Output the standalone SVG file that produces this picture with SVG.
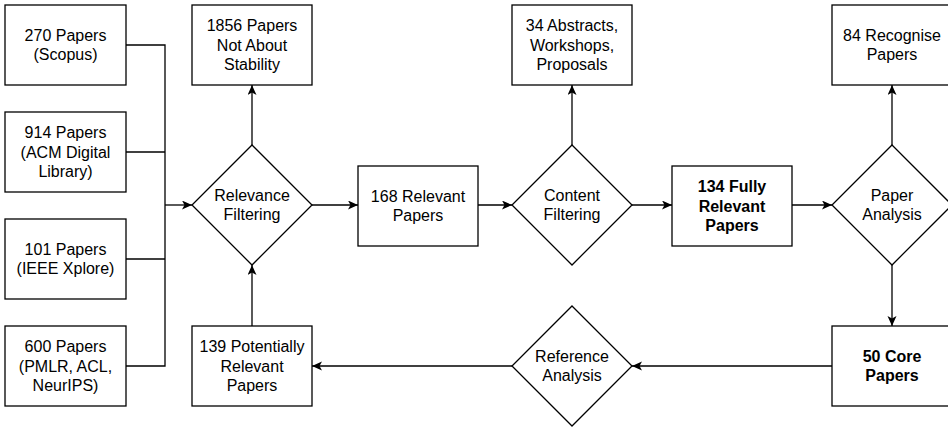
<svg xmlns="http://www.w3.org/2000/svg" width="948" height="427" viewBox="0 0 948 427">
<defs>
<marker id="arr" markerUnits="userSpaceOnUse" markerWidth="12" markerHeight="10" refX="10" refY="4.5" orient="auto">
<path d="M0,0 L10,4.5 L0,9 L2.5,4.5 Z" fill="#000"/>
</marker>
<style>
.box{fill:#fff;stroke:#000;stroke-width:1.3}
.t{font-family:"Liberation Sans",Arial,Helvetica,sans-serif;font-size:16px;fill:#000;text-anchor:middle}
.b{font-weight:bold}
.e{fill:none;stroke:#000;stroke-width:1.3}
.a{marker-end:url(#arr)}
</style>
</defs>
<rect width="948" height="427" fill="#fff"/>
<g id="connectors">
<polyline class="e" points="126,45 165,45 165,366 126,366"/>
<line class="e" x1="126" y1="152" x2="165" y2="152"/>
<line class="e" x1="126" y1="259" x2="165" y2="259"/>
<line class="e a" x1="165" y1="205" x2="192" y2="205"/>
<line class="e a" x1="252" y1="145" x2="252" y2="85"/>
<line class="e a" x1="252" y1="326" x2="252" y2="265"/>
<line class="e a" x1="312" y1="205" x2="358" y2="205"/>
<line class="e a" x1="478" y1="205" x2="512" y2="205"/>
<line class="e a" x1="572" y1="145" x2="572" y2="85"/>
<line class="e a" x1="632" y1="205" x2="672" y2="205"/>
<line class="e a" x1="792" y1="205" x2="832" y2="205"/>
<line class="e a" x1="892" y1="145" x2="892" y2="85"/>
<line class="e a" x1="892" y1="265" x2="892" y2="326"/>
<line class="e a" x1="832" y1="366" x2="632" y2="366"/>
<line class="e a" x1="512" y1="366" x2="312" y2="366"/>
</g>
<g id="scopus"><rect class="box" x="5" y="5" width="121" height="80"/><text class="t" x="65.5" y="41">270 Papers</text><text class="t" x="65.5" y="60.2">(Scopus)</text></g>
<g id="acm"><rect class="box" x="5" y="112" width="121" height="80"/><text class="t" x="65.5" y="138.4">914 Papers</text><text class="t" x="65.5" y="157.6">(ACM Digital</text><text class="t" x="65.5" y="176.8">Library)</text></g>
<g id="ieee"><rect class="box" x="5" y="219" width="121" height="80"/><text class="t" x="65.5" y="255">101 Papers</text><text class="t" x="65.5" y="274.2">(IEEE Xplore)</text></g>
<g id="pmlr"><rect class="box" x="5" y="326" width="121" height="80"/><text class="t" x="65.5" y="352.4">600 Papers</text><text class="t" x="65.5" y="371.6">(PMLR, ACL,</text><text class="t" x="65.5" y="390.8">NeurIPS)</text></g>
<g id="notabout"><rect class="box" x="192" y="5" width="120" height="80"/><text class="t" x="252" y="31.4">1856 Papers</text><text class="t" x="252" y="50.6">Not About</text><text class="t" x="252" y="69.8">Stability</text></g>
<g id="relevance"><polygon class="box" points="252,145 312,205 252,265 192,205"/><text class="t" x="252" y="201">Relevance</text><text class="t" x="252" y="220.2">Filtering</text></g>
<g id="potential"><rect class="box" x="192" y="326" width="120" height="80"/><text class="t" x="252" y="352.4">139 Potentially</text><text class="t" x="252" y="371.6">Relevant</text><text class="t" x="252" y="390.8">Papers</text></g>
<g id="relevant168"><rect class="box" x="358" y="166" width="120" height="80"/><text class="t" x="418" y="202">168 Relevant</text><text class="t" x="418" y="221.2">Papers</text></g>
<g id="content"><polygon class="box" points="572,145 632,205 572,265 512,205"/><text class="t" x="572" y="201">Content</text><text class="t" x="572" y="220.2">Filtering</text></g>
<g id="abstracts"><rect class="box" x="512" y="5" width="120" height="80"/><text class="t" x="572" y="31.4">34 Abstracts,</text><text class="t" x="572" y="50.6">Workshops,</text><text class="t" x="572" y="69.8">Proposals</text></g>
<g id="fully"><rect class="box" x="672" y="166" width="120" height="80"/><text class="t b" x="732" y="192.4">134 Fully</text><text class="t b" x="732" y="211.6">Relevant</text><text class="t b" x="732" y="230.8">Papers</text></g>
<g id="paperanalysis"><polygon class="box" points="892,145 952,205 892,265 832,205"/><text class="t" x="892" y="201">Paper</text><text class="t" x="892" y="220.2">Analysis</text></g>
<g id="recognise"><rect class="box" x="832" y="5" width="120" height="80"/><text class="t" x="892" y="41">84 Recognise</text><text class="t" x="892" y="60.2">Papers</text></g>
<g id="core"><rect class="box" x="832" y="326" width="120" height="80"/><text class="t b" x="892" y="362">50 Core</text><text class="t b" x="892" y="381.2">Papers</text></g>
<g id="reference"><polygon class="box" points="572,306 632,366 572,426 512,366"/><text class="t" x="572" y="362">Reference</text><text class="t" x="572" y="381.2">Analysis</text></g>
</svg>
